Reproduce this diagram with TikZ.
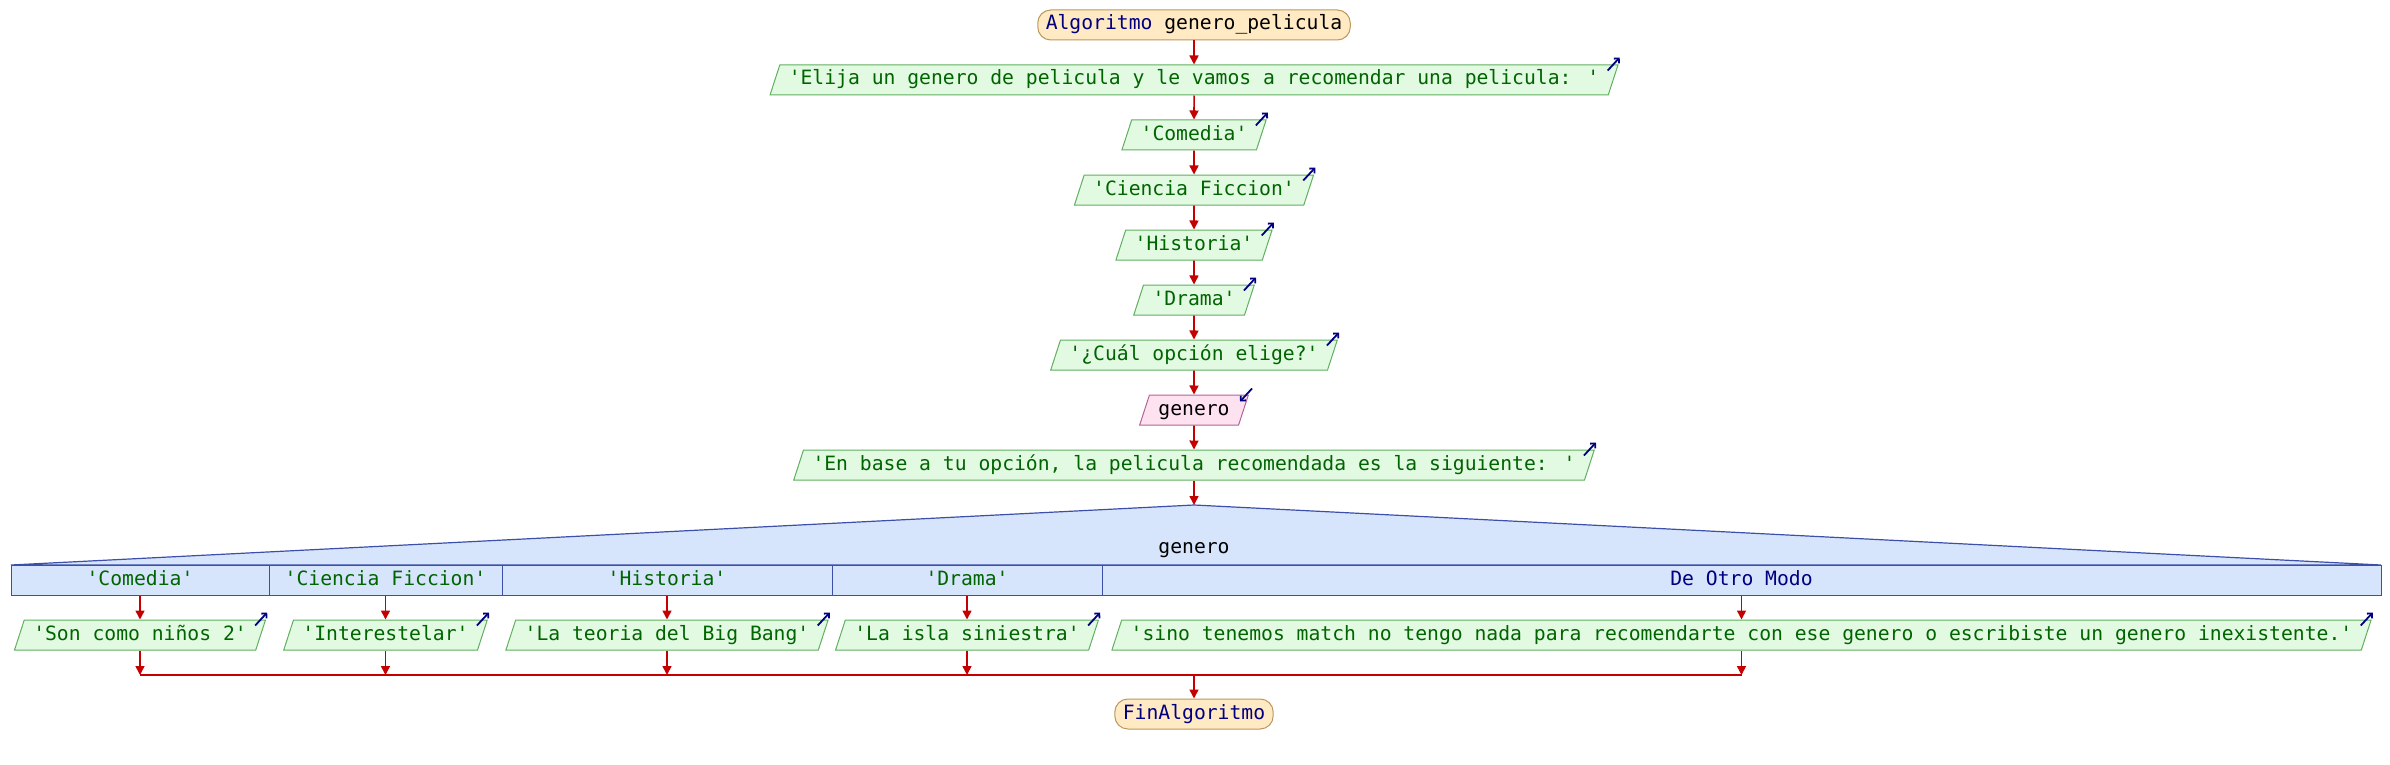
\documentclass[tikz,border=0pt]{standalone}
\usepackage{fontspec}
\usepackage{xcolor}
\usepackage{tikz}
\usetikzlibrary{shapes.geometric, arrows.meta}
\newfontfamily\psfont{DejaVu Sans Mono}
\newcommand{\flowfont}{\psfont\fontsize{19.7}{23}\selectfont}
\definecolor{outfill}{RGB}{226,250,226}
\definecolor{outdraw}{RGB}{96,176,96}
\definecolor{outtext}{RGB}{0,100,0}
\definecolor{termfill}{RGB}{255,234,196}
\definecolor{termdraw}{RGB}{188,150,90}
\definecolor{navytext}{RGB}{0,0,128}
\definecolor{infill}{RGB}{255,226,240}
\definecolor{indraw}{RGB}{180,100,150}
\definecolor{segfill}{RGB}{214,228,252}
\definecolor{segdraw}{RGB}{60,80,170}
\definecolor{flowred}{RGB}{196,0,0}
\tikzstyle{startstop} = [rectangle, rounded corners=13pt, inner xsep=8pt, inner ysep=6pt, text height=14pt, text depth=4pt, line width=1pt, draw=termdraw, fill=termfill, font=\flowfont]
\tikzstyle{writebox} = [trapezium, trapezium left angle=72, trapezium right angle=108, inner xsep=9pt, inner ysep=6pt, text height=14pt, text depth=4pt, line width=1pt, draw=outdraw, fill=outfill, text=outtext, font=\flowfont]
\tikzstyle{readbox} = [trapezium, trapezium left angle=72, trapezium right angle=108, inner xsep=9pt, inner ysep=6pt, text height=14pt, text depth=4pt, line width=1pt, draw=indraw, fill=infill, text=black, font=\flowfont]
\tikzstyle{casecell} = [rectangle, minimum height=30pt, inner sep=0pt, text height=14pt, text depth=4pt, line width=1pt, draw=segdraw, fill=segfill, text=outtext, font=\flowfont]
\tikzstyle{arrow} = [draw=flowred, line width=1.6pt, -{Triangle[length=9pt,width=9pt]}]
\tikzstyle{flow} = [draw=flowred, line width=2pt]
\tikzstyle{outicon} = [draw=navytext, line width=1.8pt, -{Straight Barb[length=3.5pt,width=7pt]}]

\begin{document}
\begin{tikzpicture}[node distance=55pt, x=1pt, y=1pt]
\useasboundingbox (0,0) rectangle (2390,-765);
\node (start) [startstop] at (1194,-25) {\textcolor{navytext}{Algoritmo} genero\_pelicula};
\node (elija) [writebox, below of=start] {'Elija un genero de pelicula y le vamos a recomendar una pelicula: '};
\node (comedia) [writebox, below of=elija] {'Comedia'};
\node (ciencia) [writebox, below of=comedia] {'Ciencia Ficcion'};
\node (historia) [writebox, below of=ciencia] {'Historia'};
\node (drama) [writebox, below of=historia] {'Drama'};
\node (cual) [writebox, below of=drama] {'¿Cuál opción elige?'};
\node (genero) [readbox, below of=cual] {genero};
\node (enbase) [writebox, below of=genero] {'En base a tu opción, la pelicula recomendada es la siguiente: '};

% segun
\coordinate (apex) at (1194,-505);
\draw [segdraw, fill=segfill, line width=1.2pt] (11,-565) -- (apex) -- (2381,-565) -- cycle;
\node (selvar) [font=\flowfont] at (1194,-550) {genero};
\node (c1) [casecell, minimum width=258pt] at (140,-580) {'Comedia'};
\node (c2) [casecell, minimum width=233pt] at (385.5,-580) {'Ciencia Ficcion'};
\node (c3) [casecell, minimum width=330pt] at (667,-580) {'Historia'};
\node (c4) [casecell, minimum width=270pt] at (967,-580) {'Drama'};
\node (c5) [casecell, minimum width=1279pt, text=navytext] at (1741.5,-580) {De Otro Modo};

\node (o1) [writebox, below of=c1] {'Son como niños 2'};
\node (o2) [writebox, below of=c2] {'Interestelar'};
\node (o3) [writebox, below of=c3] {'La teoria del Big Bang'};
\node (o4) [writebox, below of=c4] {'La isla siniestra'};
\node (o5) [writebox, below of=c5] {'sino tenemos match no tengo nada para recomendarte con ese genero o escribiste un genero inexistente.'};

\coordinate (join) at (1194,-675);
\node (fin) [startstop, text=navytext] at (1194,-714) {FinAlgoritmo};

\draw [arrow] (start) -- (elija);
\draw [arrow] (elija) -- (comedia);
\draw [arrow] (comedia) -- (ciencia);
\draw [arrow] (ciencia) -- (historia);
\draw [arrow] (historia) -- (drama);
\draw [arrow] (drama) -- (cual);
\draw [arrow] (cual) -- (genero);
\draw [arrow] (genero) -- (enbase);
\draw [arrow] (enbase) -- (apex);

\draw [arrow] (c1) -- (o1);
\draw [arrow] (c2) -- (o2);
\draw [arrow] (c3) -- (o3);
\draw [arrow] (c4) -- (o4);
\draw [arrow] (c5) -- (o5);
\draw [arrow] (o1) -- (o1 |- join);
\draw [arrow] (o2) -- (o2 |- join);
\draw [arrow] (o3) -- (o3 |- join);
\draw [arrow] (o4) -- (o4 |- join);
\draw [arrow] (o5) -- (o5 |- join);
\draw [flow] (o1 |- join) -- (o5 |- join);
\draw [arrow] (join) -- (fin);

% io marks
\draw [outicon] ([xshift=-11pt,yshift=-6pt]elija.top right corner) -- ++(12pt,13pt);
\draw [outicon] ([xshift=-11pt,yshift=-6pt]comedia.top right corner) -- ++(12pt,13pt);
\draw [outicon] ([xshift=-11pt,yshift=-6pt]ciencia.top right corner) -- ++(12pt,13pt);
\draw [outicon] ([xshift=-11pt,yshift=-6pt]historia.top right corner) -- ++(12pt,13pt);
\draw [outicon] ([xshift=-11pt,yshift=-6pt]drama.top right corner) -- ++(12pt,13pt);
\draw [outicon] ([xshift=-11pt,yshift=-6pt]cual.top right corner) -- ++(12pt,13pt);
\draw [outicon] ([xshift=3pt,yshift=6pt]genero.top right corner) -- ++(-12pt,-13pt);
\draw [outicon] ([xshift=-11pt,yshift=-6pt]enbase.top right corner) -- ++(12pt,13pt);
\draw [outicon] ([xshift=-11pt,yshift=-6pt]o1.top right corner) -- ++(12pt,13pt);
\draw [outicon] ([xshift=-11pt,yshift=-6pt]o2.top right corner) -- ++(12pt,13pt);
\draw [outicon] ([xshift=-11pt,yshift=-6pt]o3.top right corner) -- ++(12pt,13pt);
\draw [outicon] ([xshift=-11pt,yshift=-6pt]o4.top right corner) -- ++(12pt,13pt);
\draw [outicon] ([xshift=-11pt,yshift=-6pt]o5.top right corner) -- ++(12pt,13pt);
\end{tikzpicture}
\end{document}
